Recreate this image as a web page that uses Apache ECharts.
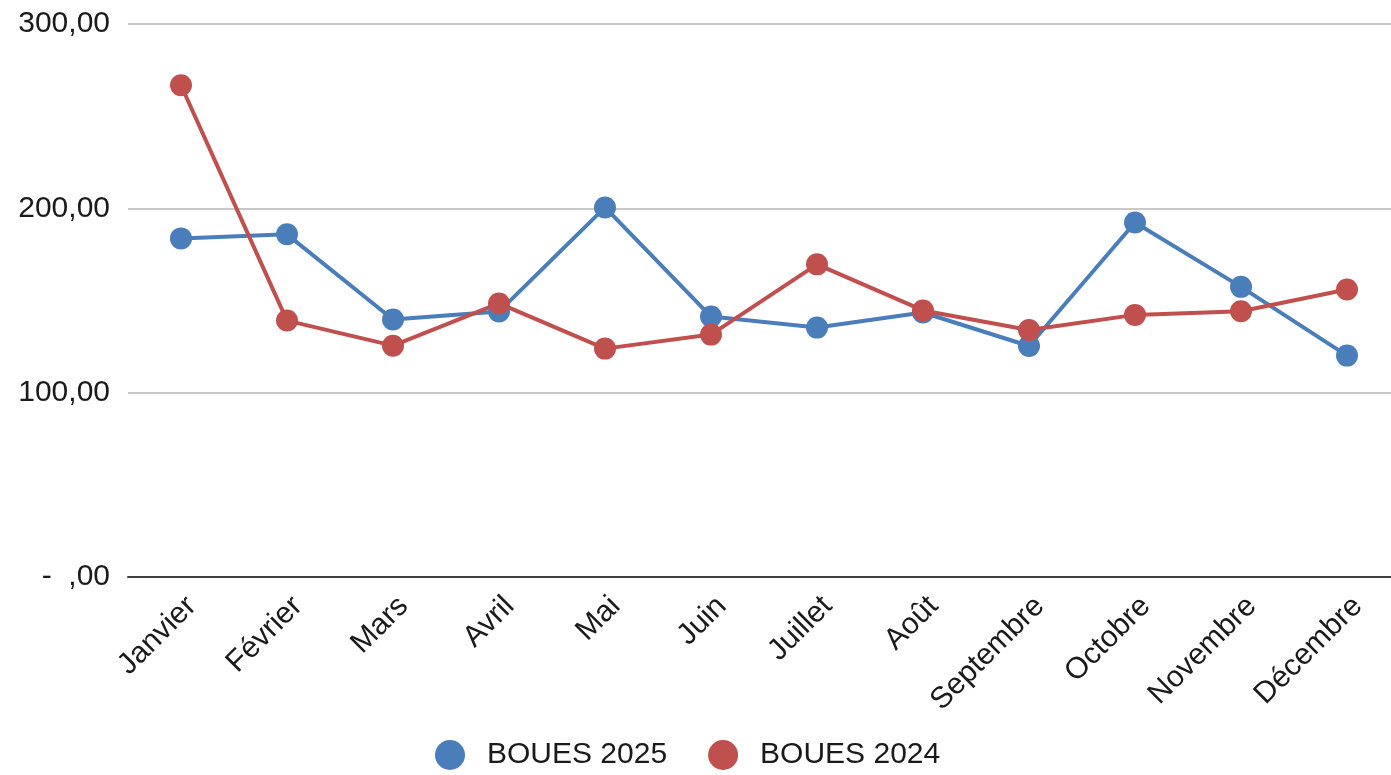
<!DOCTYPE html>
<html>
<head>
<meta charset="utf-8">
<script src="https://cdn.jsdelivr.net/npm/echarts@6/dist/echarts.min.js"></script>
<style>
  html, body { margin: 0; padding: 0; background: #fff; overflow: hidden; }
  /* chart is 9px wider than the window, the last column is cut off like in the original */
  #chart { width: 1400px; height: 775px; }
</style>
</head>
<body>
<div id="chart"></div>
<script>
const months = ['Janvier', 'Février', 'Mars', 'Avril', 'Mai', 'Juin', 'Juillet', 'Août', 'Septembre', 'Octobre', 'Novembre', 'Décembre']
const boues2025 = [183.7, 185.9, 139.7, 144.0, 200.5, 141.3, 135.3, 143.5, 125.3, 192.3, 157.4, 120.1]
const boues2024 = [266.8, 139.1, 125.5, 148.4, 123.9, 131.5, 169.6, 144.6, 134.0, 142.2, 144.2, 156.0]

const chart = echarts.init(document.getElementById('chart'), null, { renderer: 'canvas' })

const font = 'Liberation Sans, Arial, sans-serif'

function yLabel(v) {
  if (v === 0) return '-  ,00'
  return v.toFixed(2).replace('.', ',')
}

function line(name, data, color) {
  return {
    name: name,
    type: 'line',
    data: data,
    symbol: 'circle',
    symbolSize: 22,
    lineStyle: { width: 4, color: color },
    itemStyle: { color: color },
    emphasis: { disabled: true }
  }
}

chart.setOption({
  animation: false,
  textStyle: { fontFamily: font },
  grid: { left: 128, right: 0, top: 24, bottom: 198, containLabel: false },
  legend: {
    bottom: 0,
    left: 430,
    icon: 'circle',
    itemWidth: 30,
    itemHeight: 30,
    itemGap: 41,
    textStyle: { fontSize: 30, color: '#1a1a1a', fontFamily: font, padding: [0, 0, 0, 17] },
    data: ['BOUES 2025', 'BOUES 2024']
  },
  xAxis: {
    type: 'category',
    data: months,
    boundaryGap: true,
    axisLine: { lineStyle: { color: '#404040', width: 2 } },
    axisTick: { show: false },
    axisLabel: { rotate: 45, fontSize: 30, color: '#1a1a1a', margin: 14, interval: 0, verticalAlign: 'top' }
  },
  yAxis: {
    type: 'value',
    min: 0,
    max: 300,
    interval: 100,
    axisLine: { show: false },
    axisTick: { show: false },
    splitLine: { lineStyle: { color: '#c8c8c8', width: 2 } },
    axisLabel: { fontSize: 30, color: '#1a1a1a', margin: 18, formatter: yLabel }
  },
  series: [
    line('BOUES 2025', boues2025, '#4a7ebb'),
    line('BOUES 2024', boues2024, '#c0504d')
  ]
})
</script>
</body>
</html>
